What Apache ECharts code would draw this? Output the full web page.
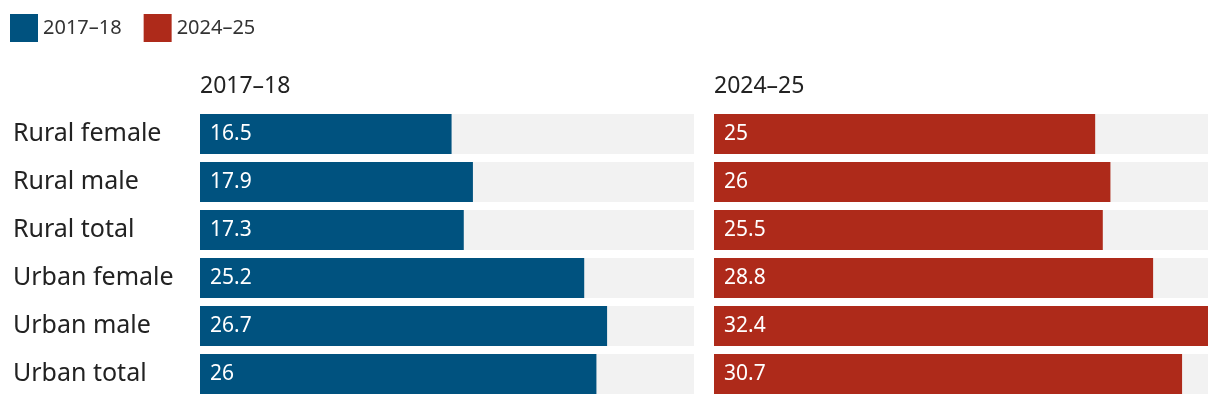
<!DOCTYPE html>
<html><head><meta charset="utf-8">
<script src="https://cdn.jsdelivr.net/npm/echarts@6/dist/echarts.min.js"></script>
<style>html,body{margin:0;padding:0;background:#fff}#c{width:1220px;height:404px}</style>
</head><body><div id="c"></div>
<script>
const categories = ["Rural female","Rural male","Rural total","Urban female","Urban male","Urban total"];
const seriesNames = ["2017–18","2024–25"];
const values2017 = [16.5,17.9,17.3,25.2,26.7,26];
const values2024 = [25,26,25.5,28.8,32.4,30.7];
const colors = ["#00527f","#ae2a1a"];
const FONT = "Noto Sans";
const chart = echarts.init(document.getElementById('c'));
const grids = [
  {left:200, top:110, width:494, height:288},
  {left:714, top:110, width:494, height:288}
];
const xMax = 32.4;
function mkSeries(i, data){
  return {
    type:'bar', name:seriesNames[i], xAxisIndex:i, yAxisIndex:i, data:data,
    barWidth:40, itemStyle:{color:colors[i]}, showBackground:true,
    backgroundStyle:{color:'#f2f2f2'},
    label:{show:true, position:'insideLeft', color:'#fff', fontFamily:FONT, fontSize:21, distance:10},
    silent:true, animation:false
  };
}
chart.setOption({
  animation:false,
  textStyle:{fontFamily:FONT},
  legend:{left:5, top:9, itemWidth:28, itemHeight:28, itemGap:22, icon:'rect',
    textStyle:{fontFamily:FONT, fontSize:20, color:'#333'},
    data:seriesNames},
  title:[
    {text:seriesNames[0], left:195, top:70, textStyle:{fontFamily:FONT, fontSize:23, fontWeight:'normal', color:'#222'}},
    {text:seriesNames[1], left:709, top:70, textStyle:{fontFamily:FONT, fontSize:23, fontWeight:'normal', color:'#222'}}
  ],
  grid:grids,
  xAxis:[0,1].map(i=>({type:'value', gridIndex:i, min:0, max:xMax, show:false})),
  yAxis:[0,1].map(i=>({type:'category', gridIndex:i, data:categories, inverse:true,
    axisLine:{show:false}, axisTick:{show:false},
    axisLabel:{show:i===0, align:'left', margin:187, fontFamily:FONT, fontSize:25, color:'#222'}})),
  series:[mkSeries(0, values2017), mkSeries(1, values2024)]
});
</script></body></html>
